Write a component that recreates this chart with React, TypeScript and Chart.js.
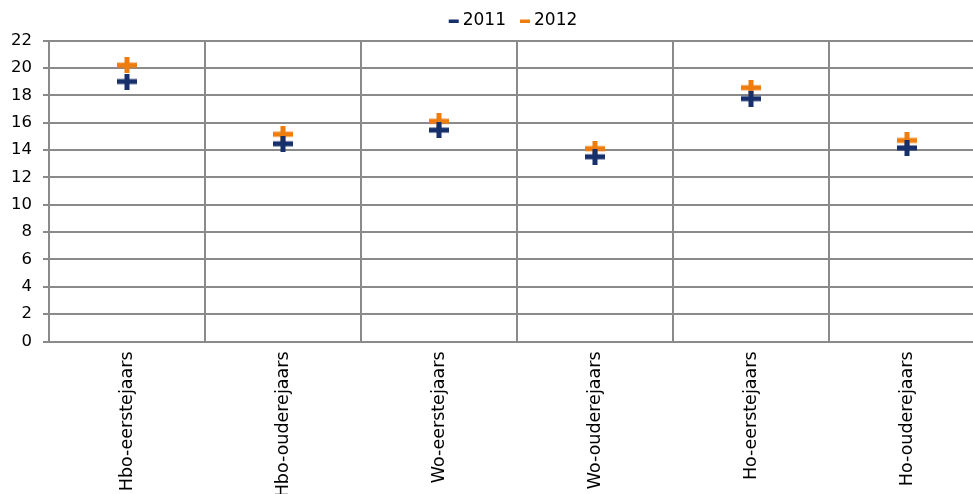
import React, { useEffect, useRef } from "react";
import { Chart, registerables } from "chart.js";

Chart.register(...registerables);

const categories = [
  "Hbo-eerstejaars",
  "Hbo-ouderejaars",
  "Wo-eerstejaars",
  "Wo-ouderejaars",
  "Ho-eerstejaars",
  "Ho-ouderejaars",
];
const series2011 = [19.0, 14.45, 15.45, 13.5, 17.75, 14.15];
const series2012 = [20.2, 15.15, 16.1, 14.1, 18.55, 14.7];
const seriesNames = ["2011", "2012"];
const colors = ["#17306b", "#ee7d11"];
const yTicks = { min: 0, max: 22, step: 2 };

const FONT = "'DejaVu Sans', Verdana, sans-serif";
const GRID = "#8a8a8a";

function makePlus(color: string): HTMLCanvasElement {
  const c = document.createElement("canvas");
  c.width = 20;
  c.height = 16;
  const ctx = c.getContext("2d")!;
  ctx.fillStyle = color;
  ctx.fillRect(0, 5.5, 20, 5);
  ctx.fillRect(7.5, 0, 5, 16);
  return c;
}

const legendPlugin = {
  id: "customLegend",
  afterDraw(chart: any) {
    const ctx = chart.ctx;
    const area = chart.chartArea;
    ctx.save();
    ctx.font = `17px ${FONT}`;
    ctx.textBaseline = "middle";
    ctx.textAlign = "left";
    const dash = 10;
    const gapText = 4;
    const gapItem = 14;
    const widths = seriesNames.map((n) => ctx.measureText(n).width);
    let total = 0;
    widths.forEach((w, i) => {
      total += dash + gapText + w + (i < widths.length - 1 ? gapItem : 0);
    });
    let x = (area.left + area.right) / 2 - total / 2 - 4;
    const y = 21;
    seriesNames.forEach((n, i) => {
      ctx.fillStyle = colors[i];
      ctx.fillRect(x, y - 1.5, dash, 3.5);
      x += dash + gapText;
      ctx.fillStyle = "#000";
      ctx.fillText(n, x, y);
      x += widths[i] + gapItem;
    });
    ctx.restore();
  },
};

export default function App() {
  const ref = useRef<HTMLCanvasElement>(null);
  useEffect(() => {
    document.body.style.overflow = "hidden";
    document.documentElement.style.overflow = "hidden";
    const canvas = ref.current!;
    const H = 520;
    const chart = new Chart(canvas, {
      type: "line",
      data: {
        labels: categories,
        datasets: [series2011, series2012].map((d, i) => ({
          label: seriesNames[i],
          data: d,
          showLine: false,
          pointStyle: makePlus(colors[i]) as any,
          backgroundColor: colors[i],
          borderColor: colors[i],
        })),
      },
      options: {
        animation: false,
        responsive: false,
        events: [],
        layout: { padding: { top: 40.5, right: 15, left: 0, bottom: 0 } },
        plugins: { legend: { display: false }, tooltip: { enabled: false } },
        scales: {
          x: {
            offset: true,
            grid: {
              offset: true,
              color: GRID,
              lineWidth: 2,
              drawTicks: false,
            },
            border: { color: GRID, width: 2 },
            ticks: {
              autoSkip: false,
              maxRotation: 90,
              minRotation: 90,
              padding: 10,
              color: "#000",
              font: { family: FONT, size: 17.5 },
            },
            afterFit: (s: any) => {
              s.height = H - 341.5;
              s.paddingLeft = 0;
              s.paddingRight = 0;
            },
          },
          y: {
            min: yTicks.min,
            max: yTicks.max,
            grid: { color: GRID, lineWidth: 2, tickLength: 6 },
            border: { color: GRID, width: 2 },
            ticks: {
              stepSize: yTicks.step,
              padding: 11,
              color: "#000",
              font: { family: FONT, size: 16.5 },
            },
            afterFit: (s: any) => {
              s.width = 49;
              s.paddingTop = 0;
              s.paddingBottom = 0;
            },
          },
        },
      },
      plugins: [legendPlugin],
    });
    return () => chart.destroy();
  }, []);
  return (
    <div style={{ position: "absolute", left: 0, top: 0, width: 1000, height: 520 }}>
      <canvas ref={ref} width={1000} height={520} style={{ display: "block" }} />
    </div>
  );
}
